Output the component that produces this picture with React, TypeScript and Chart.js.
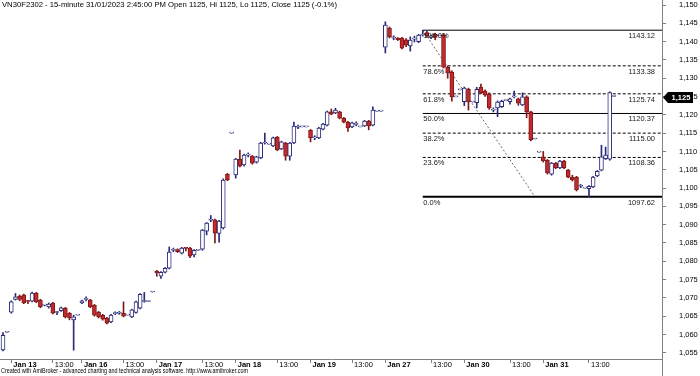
import React, { useEffect, useRef } from 'react';
import { Chart, registerables } from 'chart.js';

Chart.register(...registerables);

type Bar = [number, number, number, number]; // open, high, low, close

const jan12: Bar[] = [
  [1055.8, 1060.5, 1055.5, 1059.8],
  [1060.6, 1060.6, 1060.6, 1060.6],
];
const jan13: Bar[] = [
  [1066.1, 1069.2, 1065.8, 1068.9],
  [1069.6, 1071.2, 1069.4, 1070.3],
  [1070.4, 1070.8, 1069.2, 1069.6],
  [1070.8, 1071.0, 1068.4, 1068.6],
  [1069.2, 1069.3, 1068.4, 1069.0],
  [1069.1, 1071.6, 1068.9, 1071.3],
  [1071.3, 1071.5, 1068.7, 1068.9],
  [1069.4, 1069.6, 1067.3, 1067.5],
  [1068.0, 1068.2, 1067.8, 1068.1],
  [1067.5, 1068.6, 1067.2, 1068.3],
  [1068.6, 1068.8, 1065.6, 1065.8],
  [1066.0, 1066.3, 1065.4, 1066.2],
  [1066.5, 1067.5, 1066.3, 1067.3],
  [1067.2, 1067.4, 1064.5, 1064.8],
  [1065.8, 1066.0, 1064.0, 1064.5],
  [1064.0, 1065.3, 1055.7, 1064.8],
  [1065.3, 1065.3, 1065.3, 1065.3],
];
const jan16: Bar[] = [
  [1068.6, 1069.4, 1068.4, 1069.2],
  [1069.6, 1070.3, 1069.2, 1069.6],
  [1069.4, 1069.6, 1067.3, 1067.5],
  [1068.0, 1068.2, 1065.0, 1065.3],
  [1066.1, 1066.3, 1064.5, 1064.8],
  [1065.3, 1065.5, 1063.9, 1064.2],
  [1064.5, 1064.7, 1062.9, 1063.1],
  [1063.4, 1065.5, 1063.2, 1065.3],
  [1065.7, 1066.2, 1065.4, 1065.8],
  [1065.8, 1066.3, 1065.5, 1065.9],
  [1065.8, 1068.9, 1064.8, 1065.0],
  [1065.3, 1065.3, 1065.3, 1065.3],
  [1064.8, 1066.9, 1064.6, 1066.7],
  [1066.0, 1069.1, 1065.8, 1068.9],
  [1067.2, 1071.2, 1067.0, 1071.0],
  [1069.0, 1071.5, 1068.8, 1069.1],
  [1069.0, 1069.0, 1069.0, 1069.0],
  [1071.6, 1071.6, 1071.6, 1071.6],
];
const jan17: Bar[] = [
  [1077.3, 1077.5, 1075.9, 1076.8],
  [1075.9, 1077.2, 1075.3, 1077.0],
  [1077.0, 1078.3, 1076.8, 1078.1],
  [1078.1, 1083.9, 1077.9, 1082.5],
  [1083.0, 1083.6, 1082.6, 1083.1],
  [1083.2, 1083.4, 1082.4, 1082.6],
  [1082.2, 1083.8, 1082.0, 1083.6],
  [1083.6, 1083.7, 1082.8, 1083.5],
  [1083.6, 1083.8, 1081.0, 1081.4],
  [1081.7, 1083.2, 1081.2, 1083.0],
  [1083.0, 1083.0, 1083.0, 1083.0],
  [1083.3, 1088.7, 1083.0, 1088.5],
  [1088.2, 1090.6, 1087.2, 1090.4],
  [1091.2, 1092.5, 1090.8, 1091.3],
  [1091.3, 1091.5, 1085.0, 1087.7],
  [1087.6, 1091.2, 1085.2, 1091.0],
  [1089.1, 1102.5, 1088.8, 1102.2],
  [1103.8, 1104.0, 1102.0, 1102.2],
  [1115.0, 1115.0, 1115.0, 1115.0],
];
const jan18: Bar[] = [
  [1103.6, 1108.1, 1102.7, 1107.9],
  [1107.9, 1110.4, 1105.8, 1106.0],
  [1106.3, 1109.3, 1106.0, 1109.0],
  [1109.0, 1109.6, 1108.5, 1109.1],
  [1108.7, 1108.9, 1106.5, 1106.8],
  [1107.1, 1108.7, 1106.8, 1108.5],
  [1108.2, 1112.5, 1108.0, 1112.3],
  [1112.3, 1115.0, 1112.0, 1112.4],
  [1112.0, 1112.0, 1112.0, 1112.0],
  [1111.5, 1113.9, 1111.3, 1113.7],
  [1113.9, 1114.1, 1110.2, 1110.4],
  [1110.7, 1112.8, 1110.5, 1112.6],
  [1112.3, 1112.5, 1107.6, 1108.7],
  [1108.7, 1112.5, 1107.6, 1112.3],
  [1112.3, 1118.0, 1112.1, 1116.9],
  [1116.6, 1117.2, 1116.2, 1116.7],
  [1116.7, 1116.7, 1116.7, 1116.7],
  [1116.7, 1116.7, 1116.7, 1116.7],
];
const jan19: Bar[] = [
  [1115.8, 1116.0, 1112.6, 1113.7],
  [1113.7, 1114.3, 1113.2, 1113.8],
  [1113.7, 1116.6, 1113.5, 1116.4],
  [1116.1, 1117.7, 1115.9, 1117.5],
  [1117.2, 1121.0, 1117.0, 1120.8],
  [1120.8, 1121.6, 1120.0, 1120.2],
  [1120.5, 1121.8, 1120.3, 1121.3],
  [1120.8, 1121.0, 1118.9, 1119.1],
  [1119.1, 1119.3, 1117.8, 1118.0],
  [1118.0, 1118.2, 1115.5, 1116.4],
  [1116.7, 1118.0, 1116.5, 1117.8],
  [1117.4, 1118.1, 1117.0, 1117.5],
  [1116.7, 1116.7, 1116.7, 1116.7],
  [1117.0, 1118.5, 1116.8, 1118.3],
  [1118.3, 1118.5, 1115.9, 1117.0],
  [1117.2, 1122.2, 1117.0, 1121.3],
  [1121.0, 1121.0, 1121.0, 1121.0],
  [1121.0, 1121.0, 1121.0, 1121.0],
];
const jan27: Bar[] = [
  [1138.5, 1145.4, 1136.9, 1144.5],
  [1143.7, 1144.0, 1141.0, 1141.3],
  [1141.0, 1141.6, 1140.5, 1141.1],
  [1141.0, 1141.1, 1140.3, 1140.5],
  [1141.0, 1141.2, 1138.0, 1138.2],
  [1140.5, 1140.8, 1138.6, 1139.0],
  [1138.8, 1141.3, 1137.4, 1140.4],
  [1140.7, 1141.5, 1139.9, 1140.8],
  [1140.0, 1142.0, 1139.7, 1141.8],
  [1141.8, 1143.1, 1141.5, 1141.9],
  [1142.5, 1142.8, 1141.2, 1141.6],
  [1141.3, 1141.8, 1140.8, 1141.4],
  [1142.0, 1142.3, 1140.5, 1141.2],
  [1141.6, 1141.6, 1141.6, 1141.6],
  [1141.8, 1142.2, 1132.8, 1133.0],
  [1133.0, 1133.4, 1130.0, 1131.4],
  [1131.7, 1132.0, 1123.7, 1124.9],
  [1124.9, 1124.9, 1124.9, 1124.9],
  [1126.8, 1126.8, 1126.8, 1126.8],
];
const jan30: Bar[] = [
  [1123.6, 1127.6, 1122.5, 1127.3],
  [1127.0, 1127.3, 1121.3, 1123.5],
  [1123.5, 1123.5, 1123.5, 1123.5],
  [1123.3, 1127.5, 1121.9, 1127.0],
  [1127.6, 1128.4, 1125.8, 1126.0],
  [1126.5, 1126.8, 1125.0, 1125.4],
  [1125.7, 1126.0, 1121.5, 1121.9],
  [1121.3, 1121.9, 1120.8, 1121.4],
  [1121.9, 1123.8, 1119.5, 1123.5],
  [1122.2, 1124.0, 1122.0, 1123.7],
  [1123.9, 1123.9, 1123.9, 1123.9],
  [1123.6, 1124.6, 1122.9, 1124.4],
  [1124.9, 1126.5, 1124.6, 1125.0],
  [1124.4, 1124.6, 1122.6, 1123.2],
  [1122.7, 1126.0, 1122.5, 1124.9],
  [1124.9, 1125.2, 1119.2, 1120.8],
  [1120.8, 1121.0, 1112.9, 1113.2],
  [1113.4, 1113.4, 1113.4, 1113.4],
  [1109.8, 1109.8, 1109.8, 1109.8],
];
const jan31: Bar[] = [
  [1108.5, 1110.0, 1107.1, 1107.4],
  [1107.6, 1107.8, 1103.8, 1104.1],
  [1103.8, 1107.0, 1103.5, 1106.8],
  [1106.8, 1107.0, 1105.3, 1105.5],
  [1105.5, 1107.6, 1105.3, 1107.4],
  [1107.4, 1107.6, 1105.3, 1105.5],
  [1104.9, 1105.1, 1102.8, 1103.0],
  [1103.0, 1103.5, 1101.9, 1102.2],
  [1103.0, 1103.2, 1099.2, 1099.5],
  [1100.5, 1101.0, 1100.1, 1100.6],
  [1100.0, 1100.0, 1100.0, 1100.0],
  [1099.8, 1100.7, 1097.6, 1100.5],
  [1100.3, 1103.2, 1100.1, 1103.0],
  [1103.3, 1104.8, 1103.1, 1104.6],
  [1104.9, 1111.7, 1104.7, 1108.5],
  [1108.0, 1111.2, 1107.8, 1109.0],
  [1107.9, 1126.3, 1107.6, 1126.1],
  [1125.0, 1125.0, 1125.0, 1125.0],
];

const sessions: Bar[][] = [jan12, jan13, jan16, jan17, jan18, jan19, jan27, jan30, jan31];
const bars: Bar[] = sessions.flat();

const tickBars = [2, 12, 19, 29, 37, 48, 56, 66, 74, 84, 92, 103, 111, 122, 130, 141];
const tickLabels = [
  'Jan 13', '13:00', 'Jan 16', '13:00', 'Jan 17', '13:00', 'Jan 18', '13:00',
  'Jan 19', '13:00', 'Jan 27', '13:00', 'Jan 30', '13:00', 'Jan 31', '13:00',
];

const yTicks = [
  1055, 1060, 1065, 1070, 1075, 1080, 1085, 1090, 1095, 1100,
  1105, 1110, 1115, 1120, 1125, 1130, 1135, 1140, 1145, 1150,
];

const fibLabels = ['100.0%', '78.6%', '61.8%', '50.0%', '38.2%', '23.6%', '0.0%'];
const fibValues = [1143.12, 1133.38, 1125.74, 1120.37, 1115.0, 1108.36, 1097.62];
const fibStartBar = 101;
const fibEndBar = 128;

const titleText =
  'VN30F2302 - 15-minute 31/01/2023 2:45:00 PM Open 1125, Hi 1125, Lo 1125, Close 1125 (-0.1%)';
const creditText =
  'Created with AmiBroker - advanced charting and technical analysis software. http://www.amibroker.com';

const X_MIN = -0.72;
const X_MAX = 158.57;
const Y_MIN = 1053.3;
const Y_MAX = 1151.37;

const FONT = '"Liberation Sans", Arial, sans-serif';
const UP_LINE = '#2b2b78';
const DOWN_FILL = '#c22a2e';
const DOWN_LINE = '#7e1818';
const AXIS = '#808080';

const isUp = (b: Bar) => b[3] >= b[0];

function fitText(ctx: CanvasRenderingContext2D, text: string, x: number, y: number, width: number) {
  const w = ctx.measureText(text).width;
  ctx.save();
  ctx.translate(x, y);
  ctx.scale(width / w, 1);
  ctx.fillText(text, 0, 0);
  ctx.restore();
}

const overlay = {
  id: 'overlay',
  afterDraw(chart: any) {
    const { ctx, chartArea, scales } = chart;
    const xs = scales.x;
    const ys = scales.y;
    ctx.save();

    // axis line continues below the time axis
    ctx.strokeStyle = AXIS;
    ctx.lineWidth = 1;
    ctx.beginPath();
    ctx.moveTo(Math.round(chartArea.right) + 0.5, chartArea.bottom);
    ctx.lineTo(Math.round(chartArea.right) + 0.5, chart.height);
    ctx.stroke();

    // fibonacci labels
    ctx.font = `7.5px ${FONT}`;
    ctx.fillStyle = '#1a1a1a';
    ctx.textBaseline = 'top';
    fibValues.forEach((v, i) => {
      const py = ys.getPixelForValue(v);
      ctx.textAlign = 'left';
      ctx.fillText(fibLabels[i], xs.getPixelForValue(fibStartBar) + 0.5, py + 2);
      ctx.textAlign = 'right';
      ctx.fillText(v.toFixed(2), chartArea.right - 7, py + 2);
    });

    // title
    ctx.textAlign = 'left';
    ctx.fillStyle = '#000';
    ctx.font = `8px ${FONT}`;
    ctx.textBaseline = 'top';
    fitText(ctx, titleText, 2, 1, 335);

    // credit line
    ctx.font = `7px ${FONT}`;
    ctx.textBaseline = 'middle';
    fitText(ctx, creditText, 1, 371, 247);

    // last price tag
    const last = bars[bars.length - 1][3];
    const py = Math.round(ys.getPixelForValue(last)) + 0.5;
    const left = Math.round(chartArea.right) + 1;
    ctx.fillStyle = '#000';
    ctx.beginPath();
    ctx.moveTo(left, py);
    ctx.lineTo(left + 5, py - 5.5);
    ctx.lineTo(left + 30, py - 5.5);
    ctx.lineTo(left + 30, py + 5.5);
    ctx.lineTo(left + 5, py + 5.5);
    ctx.closePath();
    ctx.fill();
    ctx.fillStyle = '#fff';
    ctx.font = `bold 7.5px ${FONT}`;
    ctx.textAlign = 'center';
    ctx.textBaseline = 'middle';
    ctx.fillText(last.toLocaleString('en-US'), left + 18, py + 0.5);

    ctx.restore();
  },
};

export default function App() {
  const ref = useRef<HTMLCanvasElement | null>(null);

  useEffect(() => {
    if (!ref.current) return;
    Chart.defaults.font.family = FONT;

    const fibSets = fibValues.map((v, i) => ({
      type: 'line' as const,
      data: [
        { x: fibStartBar, y: v },
        { x: X_MAX, y: v },
      ],
      borderColor: '#000',
      borderWidth: i === fibValues.length - 1 ? 2 : 1,
      borderDash: i === 0 || i === 3 || i === fibValues.length - 1 ? [] : [3, 2],
      pointRadius: 0,
      fill: false,
      order: 3,
    }));

    const chart = new Chart(ref.current, {
      type: 'bar',
      data: {
        datasets: [
          {
            type: 'bar',
            data: bars.map((b, i) => ({ x: i, y: [b[0], b[3]] })) as any,
            backgroundColor: (c: any) => (isUp(bars[c.dataIndex]) ? '#ffffff' : DOWN_FILL),
            borderColor: (c: any) => (isUp(bars[c.dataIndex]) ? UP_LINE : DOWN_LINE),
            borderWidth: 1,
            borderSkipped: false,
            barThickness: 4,
            minBarLength: 1,
            grouped: false,
            order: 0,
          } as any,
          {
            type: 'bar',
            data: bars.map((b, i) => ({ x: i, y: [b[2], b[1]] })) as any,
            backgroundColor: (c: any) => (isUp(bars[c.dataIndex]) ? UP_LINE : DOWN_LINE),
            borderWidth: 0,
            barThickness: 1,
            grouped: false,
            order: 1,
          } as any,
          ...fibSets,
          {
            type: 'line',
            data: [
              { x: fibStartBar, y: fibValues[0] },
              { x: fibEndBar, y: fibValues[fibValues.length - 1] },
            ],
            borderColor: '#6a6a6a',
            borderWidth: 1,
            borderDash: [2, 2],
            pointRadius: 0,
            fill: false,
            order: 4,
          } as any,
        ],
      },
      options: {
        animation: false,
        responsive: false,
        devicePixelRatio: 1,
        layout: { padding: 0 },
        plugins: { legend: { display: false }, tooltip: { enabled: false }, title: { display: false } },
        scales: {
          x: {
            type: 'linear',
            min: X_MIN,
            max: X_MAX,
            offset: false,
            afterBuildTicks: (s: any) => {
              s.ticks = tickBars.map((v) => ({ value: v }));
            },
            afterFit: (s: any) => {
              s.height = 17;
              s.paddingLeft = 0;
              s.paddingRight = 0;
            },
            grid: { drawOnChartArea: false, drawTicks: true, tickLength: 4, color: AXIS, offset: false },
            border: { color: AXIS },
            ticks: {
              autoSkip: false,
              maxRotation: 0,
              minRotation: 0,
              align: 'start',
              labelOffset: 2,
              padding: -3,
              color: '#000',
              font: (c: any) => {
                const idx = tickBars.indexOf(c.tick ? c.tick.value : -1);
                const lab = idx >= 0 ? tickLabels[idx] : '';
                return { size: 7.5, family: FONT, weight: lab.startsWith('Jan') ? 'bold' : 'normal' };
              },
              callback: (v: any) => {
                const idx = tickBars.indexOf(Number(v));
                return idx >= 0 ? tickLabels[idx] : '';
              },
            },
          } as any,
          y: {
            type: 'linear',
            position: 'right',
            min: Y_MIN,
            max: Y_MAX,
            beginAtZero: false,
            afterBuildTicks: (s: any) => {
              s.ticks = yTicks.map((v) => ({ value: v }));
            },
            afterFit: (s: any) => {
              s.width = 38;
              s.paddingTop = 0;
              s.paddingBottom = 0;
            },
            grid: { drawOnChartArea: false, drawTicks: true, tickLength: 4, color: AXIS },
            border: { color: AXIS },
            ticks: {
              autoSkip: false,
              padding: 13,
              color: '#000',
              font: { size: 7.5, family: FONT },
              callback: (v: any) => Number(v).toLocaleString('en-US'),
            },
          } as any,
        },
      },
      plugins: [overlay],
    } as any);

    return () => chart.destroy();
  }, []);

  return (
    <div style={{ position: 'absolute', left: 0, top: 0, width: 700, height: 376, background: '#fff' }}>
      <canvas ref={ref} width={700} height={376} style={{ display: 'block', width: 700, height: 376 }} />
    </div>
  );
}
